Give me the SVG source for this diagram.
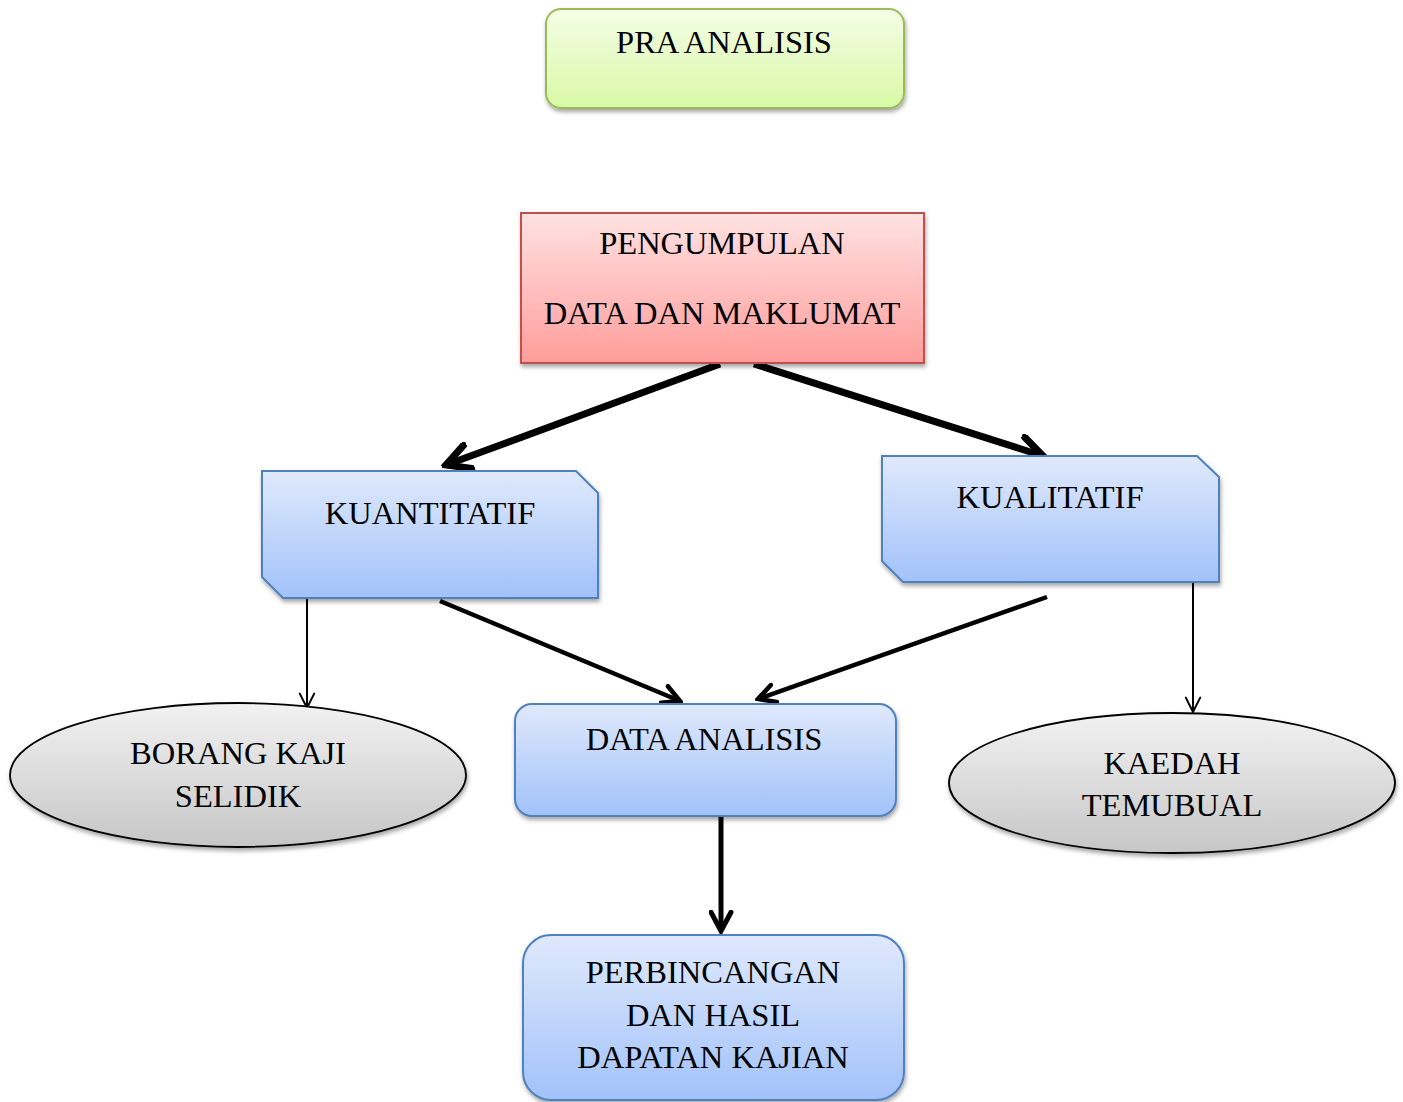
<svg xmlns="http://www.w3.org/2000/svg" width="1403" height="1102" viewBox="0 0 1403 1102">
  <defs>
    <linearGradient id="gGreen" x1="0" y1="0" x2="0" y2="1">
      <stop offset="0" stop-color="#f4fde6"/>
      <stop offset="1" stop-color="#d9f9a6"/>
    </linearGradient>
    <linearGradient id="gRed" x1="0" y1="0" x2="0" y2="1">
      <stop offset="0" stop-color="#ffe2e2"/>
      <stop offset="1" stop-color="#ff9d9b"/>
    </linearGradient>
    <linearGradient id="gBlue" x1="0" y1="0" x2="0" y2="1">
      <stop offset="0" stop-color="#dfe9fc"/>
      <stop offset="1" stop-color="#a2c2fa"/>
    </linearGradient>
    <linearGradient id="gGrey" x1="0" y1="0" x2="0" y2="1">
      <stop offset="0" stop-color="#f2f2f2"/>
      <stop offset="1" stop-color="#c6c6c6"/>
    </linearGradient>
    <filter id="shadow" x="-10%" y="-10%" width="120%" height="130%">
      <feDropShadow dx="1" dy="3" stdDeviation="2" flood-color="#000" flood-opacity="0.35"/>
    </filter>
    <marker id="arrThick" viewBox="0 0 10 10" refX="8.5" refY="5" markerWidth="4.4" markerHeight="4.4" orient="auto" markerUnits="strokeWidth">
      <path d="M1,1 L8.5,5 L1,9" fill="none" stroke="#000" stroke-width="2.3" stroke-linecap="round" stroke-linejoin="miter"/>
    </marker>
    <marker id="arrMed" viewBox="0 0 10 10" refX="8.5" refY="5" markerWidth="5" markerHeight="5" orient="auto" markerUnits="strokeWidth">
      <path d="M1,1 L8.5,5 L1,9" fill="none" stroke="#000" stroke-width="2" stroke-linecap="round"/>
    </marker>
    <marker id="arrThin" viewBox="0 0 10 10" refX="9" refY="5" markerWidth="9" markerHeight="9" orient="auto" markerUnits="strokeWidth">
      <path d="M1,1 L9,5 L1,9" fill="none" stroke="#000" stroke-width="1.1" stroke-linecap="round"/>
    </marker>
  </defs>
  <style>
    text { font-family: "Liberation Serif", "Times New Roman", serif; font-size: 32.5px; fill: #000; text-anchor: middle; }
    .blue { fill: url(#gBlue); stroke: #4f81bd; stroke-width: 2; filter: url(#shadow); }
    .grey { fill: url(#gGrey); stroke: #000; stroke-width: 1.8; filter: url(#shadow); }
    .conn { fill: none; stroke: #000; }
  </style>

  <g id="connectors">
    <line class="conn" x1="720" y1="364" x2="446" y2="465" stroke-width="7" marker-end="url(#arrThick)"/>
    <line class="conn" x1="754" y1="364" x2="1043" y2="456" stroke-width="7" marker-end="url(#arrThick)"/>
    <line class="conn" x1="440" y1="601" x2="680" y2="701" stroke-width="4.5" marker-end="url(#arrMed)"/>
    <line class="conn" x1="1047" y1="597" x2="758" y2="699" stroke-width="4.5" marker-end="url(#arrMed)"/>
    <line class="conn" x1="721" y1="816" x2="721" y2="931" stroke-width="5" marker-end="url(#arrMed)"/>
    <line class="conn" x1="307" y1="598" x2="307" y2="708" stroke-width="2" marker-end="url(#arrThin)"/>
    <line class="conn" x1="1193" y1="580" x2="1193" y2="712" stroke-width="2" marker-end="url(#arrThin)"/>
  </g>

  <g id="pra-analisis">
    <rect x="546" y="9" width="358" height="99" rx="15" fill="url(#gGreen)" stroke="#9bbb59" stroke-width="2" filter="url(#shadow)"/>
    <text x="724" y="53">PRA ANALISIS</text>
  </g>

  <g id="pengumpulan">
    <rect x="521" y="213" width="403" height="150" fill="url(#gRed)" stroke="#c0504d" stroke-width="2" filter="url(#shadow)"/>
    <text x="722" y="254">PENGUMPULAN</text>
    <text x="722" y="324">DATA DAN MAKLUMAT</text>
  </g>

  <g id="kuantitatif">
    <path class="blue" d="M262,471 L576,471 L598,493 L598,598 L283,598 L262,577 Z"/>
    <text x="430" y="524">KUANTITATIF</text>
  </g>

  <g id="kualitatif">
    <path class="blue" d="M882,456 L1197,456 L1219,477 L1219,582 L903,582 L882,561 Z"/>
    <text x="1050" y="508">KUALITATIF</text>
  </g>

  <g id="data-analisis">
    <rect class="blue" x="515" y="704" width="381" height="112" rx="17"/>
    <text x="704" y="750">DATA ANALISIS</text>
  </g>

  <g id="perbincangan">
    <rect class="blue" x="523" y="935" width="381" height="165" rx="28"/>
    <text x="713" y="983">PERBINCANGAN</text>
    <text x="713" y="1026">DAN HASIL</text>
    <text x="713" y="1068">DAPATAN KAJIAN</text>
  </g>

  <g id="borang">
    <ellipse class="grey" cx="238" cy="775" rx="228" ry="72"/>
    <text x="238" y="764">BORANG KAJI</text>
    <text x="238" y="807">SELIDIK</text>
  </g>

  <g id="kaedah">
    <ellipse class="grey" cx="1172" cy="783" rx="223" ry="70"/>
    <text x="1172" y="774">KAEDAH</text>
    <text x="1172" y="816">TEMUBUAL</text>
  </g>
</svg>
